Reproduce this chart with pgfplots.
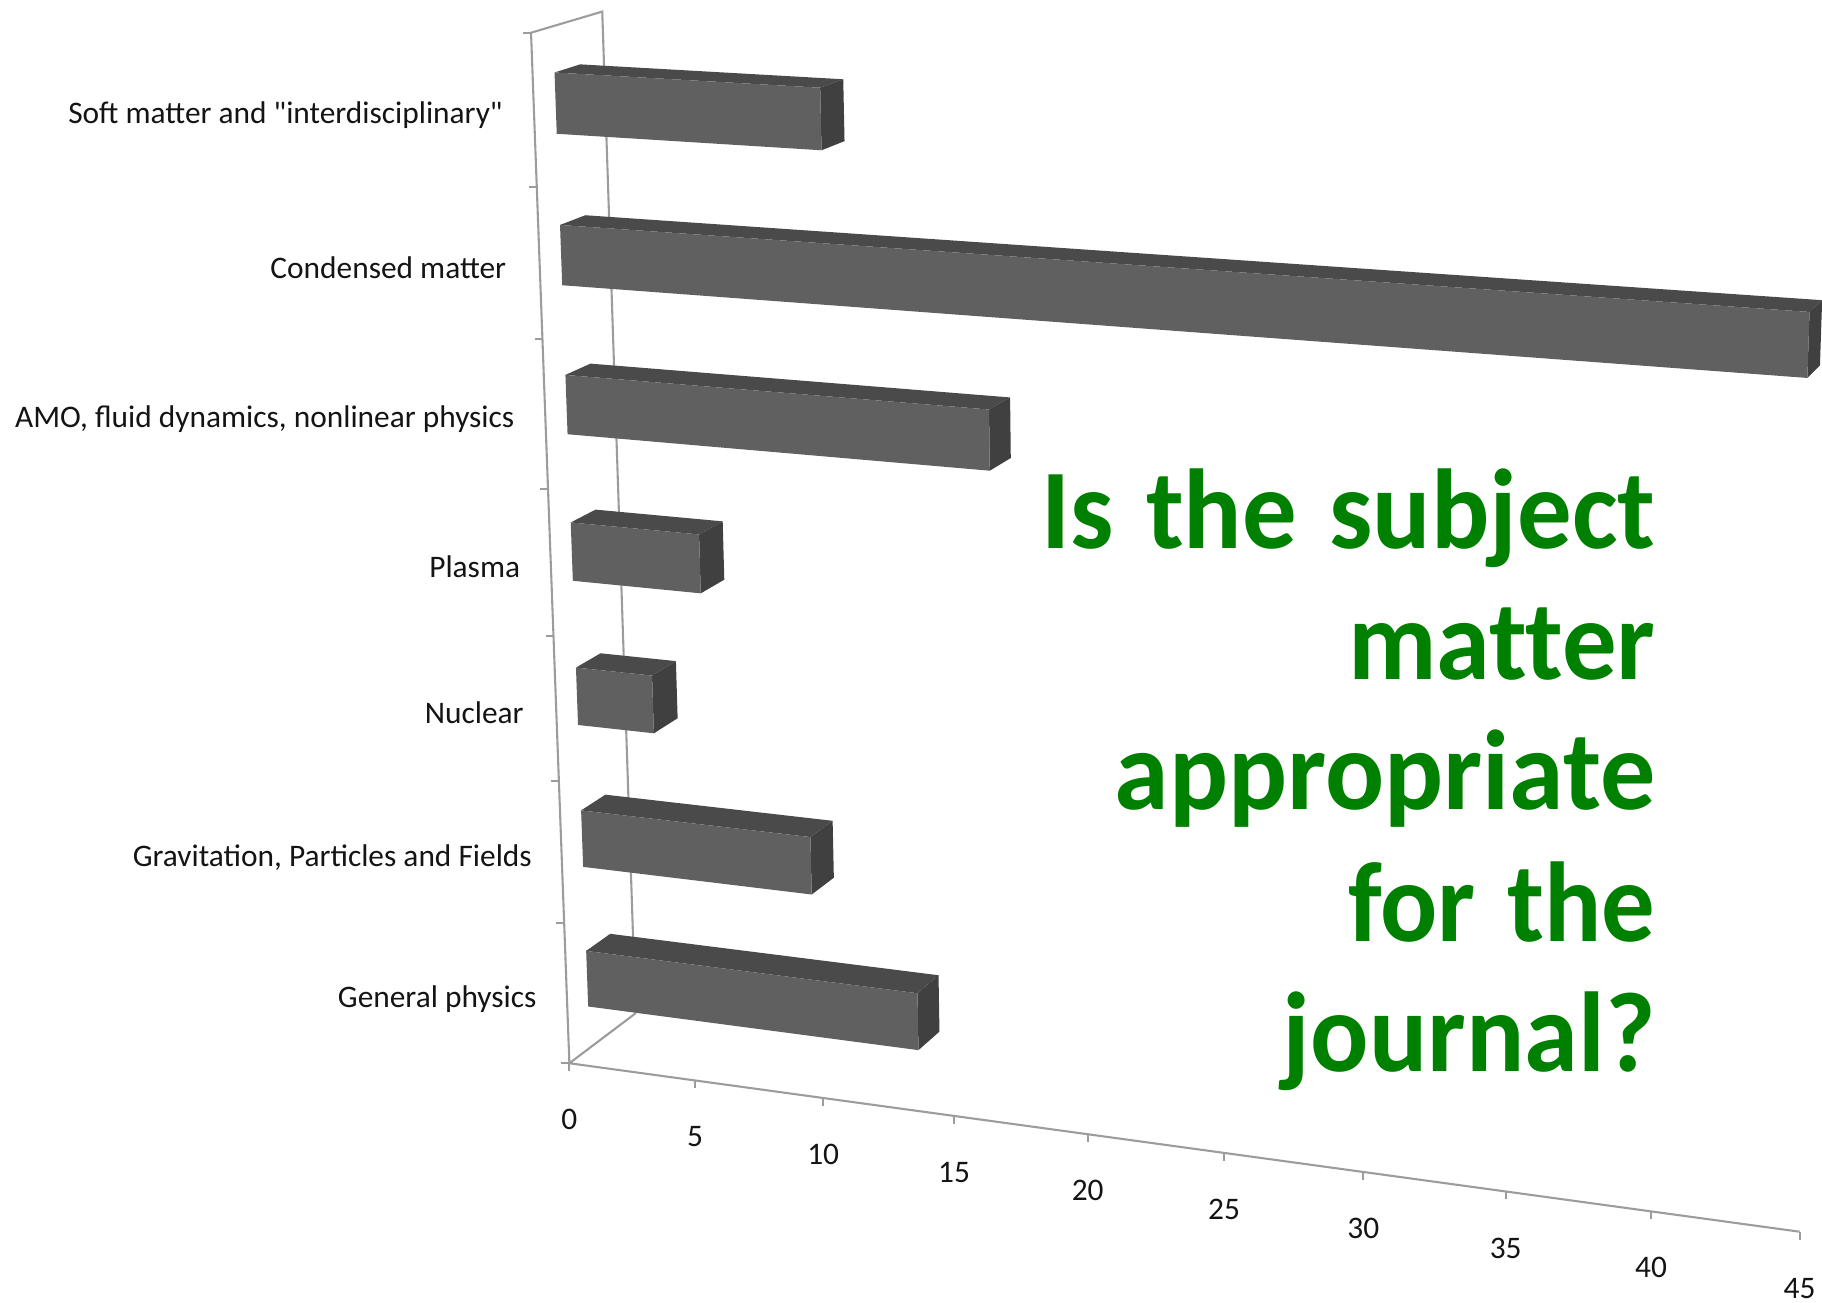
\documentclass[border=0pt]{standalone}
\usepackage{pgfplots}
\usepackage{fontspec}
\pgfplotsset{compat=1.18}
\setmainfont{Carlito}
\newfontfamily\plainfont{Carlito}
\newfontfamily\headfont[Ligatures=NoCommon]{Carlito}

\definecolor{barfront}{HTML}{606060}
\definecolor{bartop}{HTML}{4A4A4A}
\definecolor{barside}{HTML}{404040}
\definecolor{axisgray}{HTML}{9C9C9C}
\definecolor{headgreen}{HTML}{008000}
\definecolor{labeltext}{HTML}{141414}

% Perspective projection of (v = value, c = category position, d = depth)
\pgfplotsset{
  table/persp/.style={
    x expr={490+(21.41*\thisrow{v}-4.45*\thisrow{c}+58.7*\thisrow{d})/(1-0.002*\thisrow{v}-0.008*\thisrow{c}+0.03*\thisrow{d})},
    y expr={915+(2.932*\thisrow{v}-119.6*\thisrow{c}-44.3*\thisrow{d})/(1-0.002*\thisrow{v}-0.008*\thisrow{c}+0.03*\thisrow{d})},
    row sep=\\
  }
}
\pgfdeclareplotmark{xtickdown}{\pgfpathmoveto{\pgfpointorigin}\pgfpathlineto{\pgfpoint{0pt}{-3.4pt}}\pgfusepathqstroke}
\pgfdeclareplotmark{ytickleft}{\pgfpathmoveto{\pgfpointorigin}\pgfpathlineto{\pgfpoint{-3.4pt}{0pt}}\pgfusepathqstroke}

% One three-dimensional bar: #1 = lower edge, #2 = upper edge, #3 = value
\newcommand{\solidbar}[3]{%
  \addplot[fill=bartop,draw=none,mark=none,forget plot] table[persp] {v c d\\ 0 #2 0.3\\ #3 #2 0.3\\ #3 #2 0.66\\ 0 #2 0.66\\};
  \addplot[fill=barside,draw=none,mark=none,forget plot] table[persp] {v c d\\ #3 #1 0.3\\ #3 #2 0.3\\ #3 #2 0.66\\ #3 #1 0.66\\};
  \addplot[fill=barfront,draw=none,mark=none,forget plot] table[persp] {v c d\\ 0 #1 0.3\\ #3 #1 0.3\\ #3 #2 0.3\\ 0 #2 0.3\\};
}
\newcommand{\catlabel}[3]{\node[anchor=east,font=\fontsize{13.5pt}{15pt}\selectfont,text=labeltext,inner sep=0pt] at (axis cs:#1,#2) {#3};}
\newcommand{\headline}[4]{\node[anchor=base east,inner sep=0pt,text=headgreen] at (axis cs:1425,#1) {\scalebox{#2}[#3]{\fontsize{30pt}{30pt}\selectfont\headfont\bfseries #4}};}

\begin{document}
\begin{tikzpicture}
\begin{axis}[
  scale only axis, width=784pt, height=560.67pt,
  xmin=0, xmax=1568, ymin=0, ymax=1121.34,
  y dir=reverse, axis lines=none, clip=true
]
% Floor edges and walls
\addplot[axisgray,line width=0.9pt,mark=none] table[persp] {v c d\\ 0 0 1\\ 0 0 0\\ 45 0 0\\};
\addplot[axisgray,line width=0.9pt,mark=none] table[persp] {v c d\\ 0 0 1\\ 0 7 1\\ 0 7 0\\ 0 0 0\\};
% Value ticks with their numbers
\addplot[axisgray,line width=0.9pt,only marks,mark=xtickdown,
  point meta=\thisrow{v},nodes near coords,
  /pgf/number format/assume math mode=true,
  every node near coord/.style={anchor=center,yshift=-24.3pt,text=labeltext,font=\fontsize{13.5pt}{15pt}\selectfont}]
  table[persp] {v c d\\ 0 0 0\\ 5 0 0\\ 10 0 0\\ 15 0 0\\ 20 0 0\\ 25 0 0\\ 30 0 0\\ 35 0 0\\ 40 0 0\\ 45 0 0\\};
% Category ticks
\addplot[axisgray,line width=0.9pt,only marks,mark=ytickleft]
  table[persp] {v c d\\ 0 0 0\\ 0 1 0\\ 0 2 0\\ 0 3 0\\ 0 4 0\\ 0 5 0\\ 0 6 0\\ 0 7 0\\};
% Bars, share of papers by subject
\solidbar{6.3}{6.7}{10}
\solidbar{5.3}{5.7}{44}
\solidbar{4.3}{4.7}{16}
\solidbar{3.3}{3.7}{5}
\solidbar{2.3}{2.7}{3}
\solidbar{1.3}{1.7}{9}
\solidbar{0.3}{0.7}{13}
% Category names
\catlabel{433}{99}{Soft matter and {\plainfont"}interdisciplinary{\plainfont"}}
\catlabel{436}{230}{Condensed matter}
\catlabel{443}{361}{AMO, fluid dynamics, nonlinear physics}
\catlabel{448}{488}{Plasma}
\catlabel{451}{613}{Nuclear}
\catlabel{458}{738}{Gravitation, Particles and Fields}
\catlabel{462}{860}{General physics}
% Question set over the chart
\headline{472}{1.56}{1.63}{Is\hspace{0.3em}the\hspace{0.3em}subject}
\headline{585}{1.56}{1.63}{matter}
\headline{697}{1.58}{1.63}{appropriate}
\headline{810}{1.53}{1.63}{for\hspace{0.3em}the}
\headline{922}{1.56}{1.63}{journal?}
\end{axis}
\pgfresetboundingbox
\path[use as bounding box] (0,0) rectangle (784pt,560.67pt);
\end{tikzpicture}
\end{document}
